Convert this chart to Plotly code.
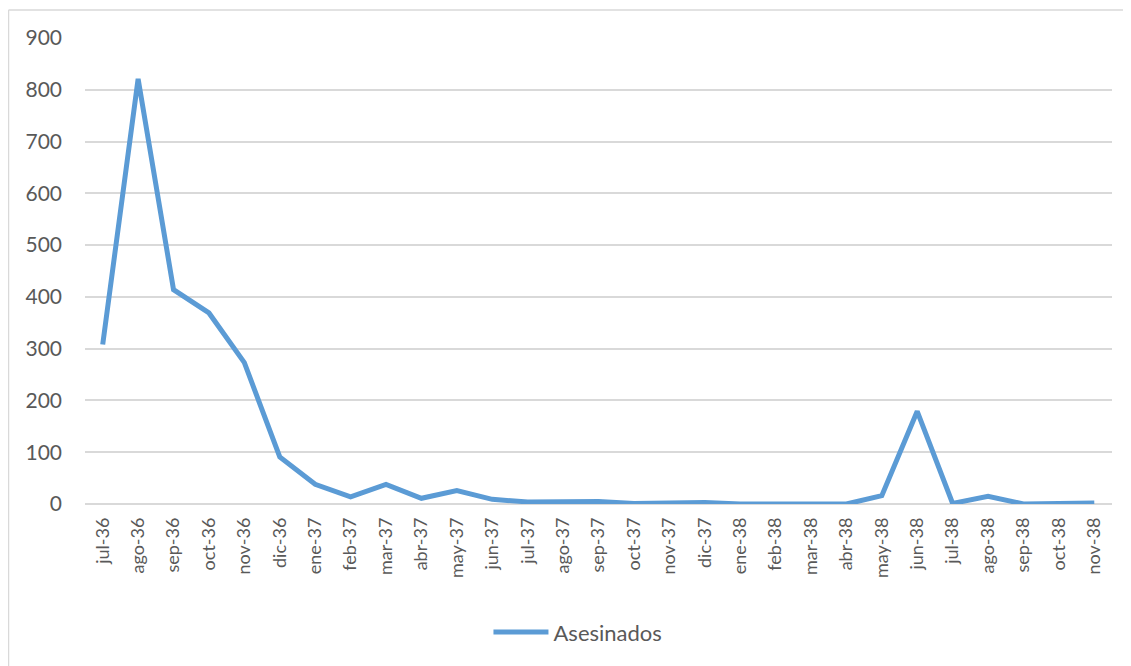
import plotly.graph_objects as go

months = ["jul-36", "ago-36", "sep-36", "oct-36", "nov-36", "dic-36",
          "ene-37", "feb-37", "mar-37", "abr-37", "may-37", "jun-37",
          "jul-37", "ago-37", "sep-37", "oct-37", "nov-37", "dic-37",
          "ene-38", "feb-38", "mar-38", "abr-38", "may-38", "jun-38",
          "jul-38", "ago-38", "sep-38", "oct-38", "nov-38"]
asesinados = [308, 821, 414, 369, 273, 91,
              38, 14, 38, 11, 26, 9,
              4, 4, 5, 1, 3, 3,
              0, 0, 0, 0, 16, 179,
              1, 15, 0, 1, 2]
y_ticks = [0, 100, 200, 300, 400, 500, 600, 700, 800, 900]

fig = go.Figure()
fig.add_trace(go.Scatter(
    x=months, y=asesinados, mode="lines", name="Asesinados",
    line=dict(color="#5B9BD5", width=5),
))

font = "Lato, Open Sans, sans-serif"
fig.update_layout(
    width=1123, height=658,
    margin=dict(l=77, r=19, t=30, b=162),
    paper_bgcolor="white", plot_bgcolor="white",
    font=dict(family=font, size=18, color="#595959"),
    showlegend=True,
    legend=dict(orientation="h", x=0.48, xanchor="center", y=-0.275, yanchor="middle",
                itemwidth=55, font=dict(size=22, color="#595959")),
    xaxis=dict(type="category", range=[-0.5, len(months) - 0.5],
               tickangle=-90, showgrid=False, showline=False, ticks="",
               ticklabelstandoff=9, tickfont=dict(size=18)),
    yaxis=dict(range=[0, 900], tickvals=y_ticks, showgrid=True,
               gridcolor="#d9d9d9", gridwidth=1.5, zeroline=True,
               zerolinecolor="#d9d9d9", zerolinewidth=1.5, showline=False,
               ticks="", ticklabelstandoff=22, tickfont=dict(size=21)),
    shapes=[
        dict(type="line", xref="paper", yref="paper",
             x0=(8.5 - 85) / 1027, x1=1.05, y0=(504 - 10) / 466, y1=(504 - 10) / 466,
             line=dict(color="#d9d9d9", width=1.5)),
        dict(type="line", xref="paper", yref="paper",
             x0=(8.5 - 85) / 1027, x1=(8.5 - 85) / 1027, y0=(504 - 10) / 466, y1=-0.4,
             line=dict(color="#d9d9d9", width=1.5)),
    ],
)

fig.write_html("out.html")
